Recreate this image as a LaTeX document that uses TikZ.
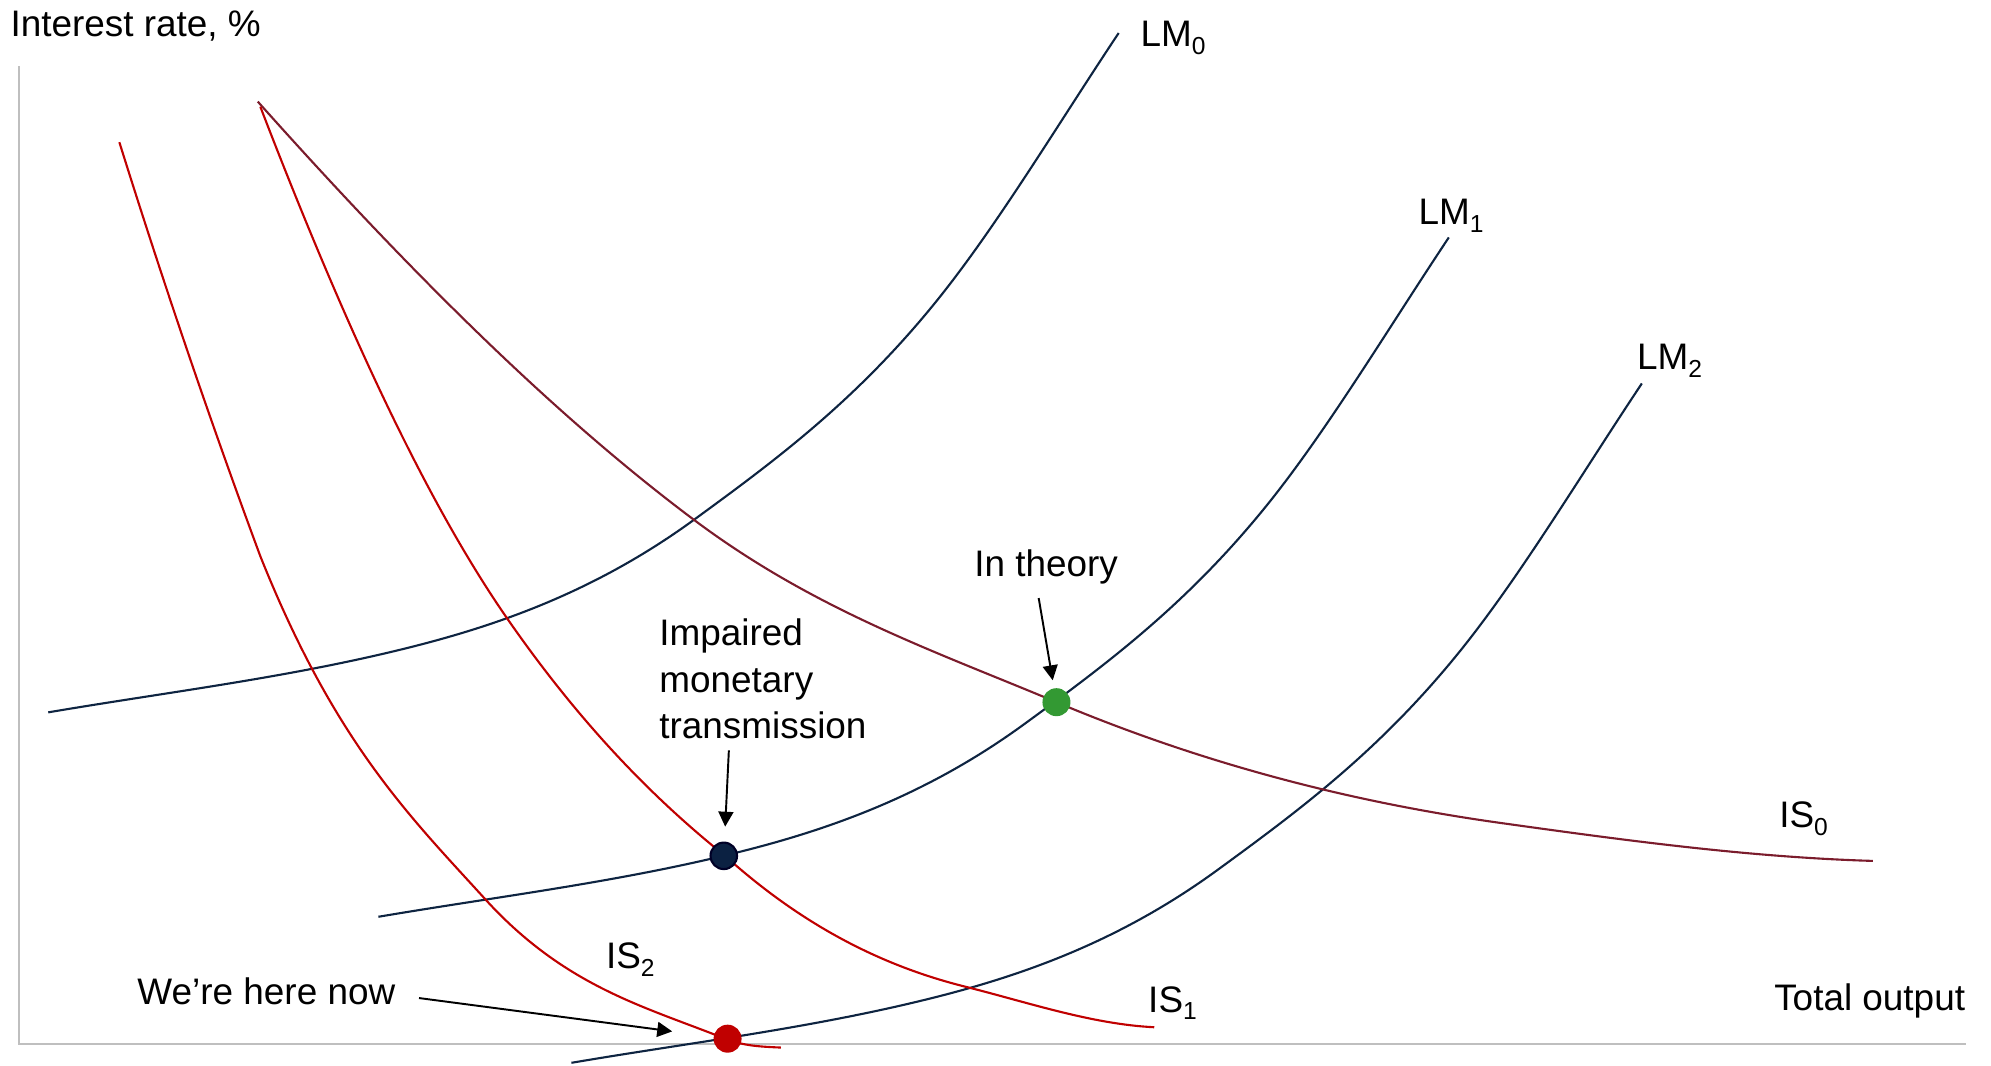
\documentclass[tikz,border=0pt]{standalone}
\usepackage{fontspec}
\setmainfont{Liberation Sans}
\usetikzlibrary{arrows.meta}
\definecolor{lmcol}{HTML}{0E2441}
\definecolor{iszero}{HTML}{7B1C2C}
\definecolor{isred}{HTML}{C00000}
\definecolor{axcol}{HTML}{BFBFBF}
\definecolor{dotgreen}{HTML}{339933}
\definecolor{dotnavy}{HTML}{0B2142}
\newcommand{\mysub}[1]{\raisebox{-4.5pt}{\fontsize{14}{14}\selectfont #1}}
\begin{document}
\begin{tikzpicture}[x=0.025395cm,y=-0.025395cm,
  lab/.style={anchor=base west,inner sep=0,font=\fontsize{21}{26.5}\selectfont},
  curve/.style={line width=1.2pt,line join=round},
  ptr/.style={-{Triangle[length=8.5pt,width=8.5pt]},line width=1.1pt,black},
  dotst/.style={circle,inner sep=0,minimum size=0.56cm}]
\useasboundingbox (0,0) rectangle (1568,839);
% axes
\draw[axcol,line width=1.1pt] (15,52) -- (15,822) -- (1548,822);
% labels
\node[lab] (ylab) at (8,29) {Interest rate, \%};
\node[lab] (xlab) at (1397,796) {Total output};
\node[lab] (lm0) at (898,37) {LM\mysub{0}};
\node[lab] (lm1) at (1117,177) {LM\mysub{1}};
\node[lab] (lm2) at (1289,291) {LM\mysub{2}};
\node[lab] (is0) at (1401,652) {IS\mysub{0}};
\node[lab] (is1) at (904,797) {IS\mysub{1}};
\node[lab] (is2) at (477,763) {IS\mysub{2}};
\node[lab] (theory) at (767,454) {In theory};
\node[lab,align=left,anchor=north west] (impaired) at (519,487) {Impaired\\monetary\\transmission};
\node[lab] (here) at (108,791) {We’re here now};
% LM curves (same shape, shifted)
\foreach \dx/\dy in {0/0,260/161,412/276}
  \draw[curve,lmcol,shift={(\dx,\dy)}] (38,561)
    .. controls (132.7,544.9) and (227.3,533.7) .. (322,510)
    .. controls (397,491.25) and (472,463.75) .. (547,409)
    .. controls (610,363) and (673,316.5) .. (736,239)
    .. controls (784.3,179.6) and (832.7,98.5) .. (881,26);
% IS curves
\draw[curve,iszero] (203,80)
  .. controls (317.3,208) and (431.7,323.3) .. (546,409)
  .. controls (641.3,480.5) and (736.7,513) .. (832,553)
  .. controls (948.3,601.9) and (1064.7,631.7) .. (1181,648)
  .. controls (1279,661.7) and (1377,675.1) .. (1475,678);
\draw[curve,isred] (205,84)
  .. controls (269.3,251.2) and (333.7,391.7) .. (398,485)
  .. controls (455.7,568.6) and (513.3,627.8) .. (571,674)
  .. controls (634,730.7) and (697,761.25) .. (760,777)
  .. controls (809.7,789.4) and (859.3,806.5) .. (909,809);
\draw[curve,isred] (94,112)
  .. controls (131,230.4) and (168,338.1) .. (205,438)
  .. controls (264,585.5) and (323,643.1) .. (382,708)
  .. controls (445,777.3) and (508,792.8) .. (571,818)
  .. controls (585.7,823.9) and (600.3,824.3) .. (615,825);
% dots
\node[dotst,fill=dotgreen] (gdot) at (832,553) {};
\node[dotst,fill=dotnavy,draw=black!85!blue,line width=1.2pt,minimum size=0.53cm] (ndot) at (570,674) {};
\node[dotst,fill=isred] (rdot) at (573,818) {};
% arrows
\coordinate (tS) at (818,471);
\coordinate (iS) at (574,591);
\coordinate (wS) at (330,786);
\draw[ptr,shorten >=0.444cm] (tS) -- (gdot.center);
\draw[ptr,shorten >=0.584cm] (iS) -- (ndot.center);
\draw[ptr,shorten >=1.117cm] (wS) -- (rdot.center);
\end{tikzpicture}
\end{document}
